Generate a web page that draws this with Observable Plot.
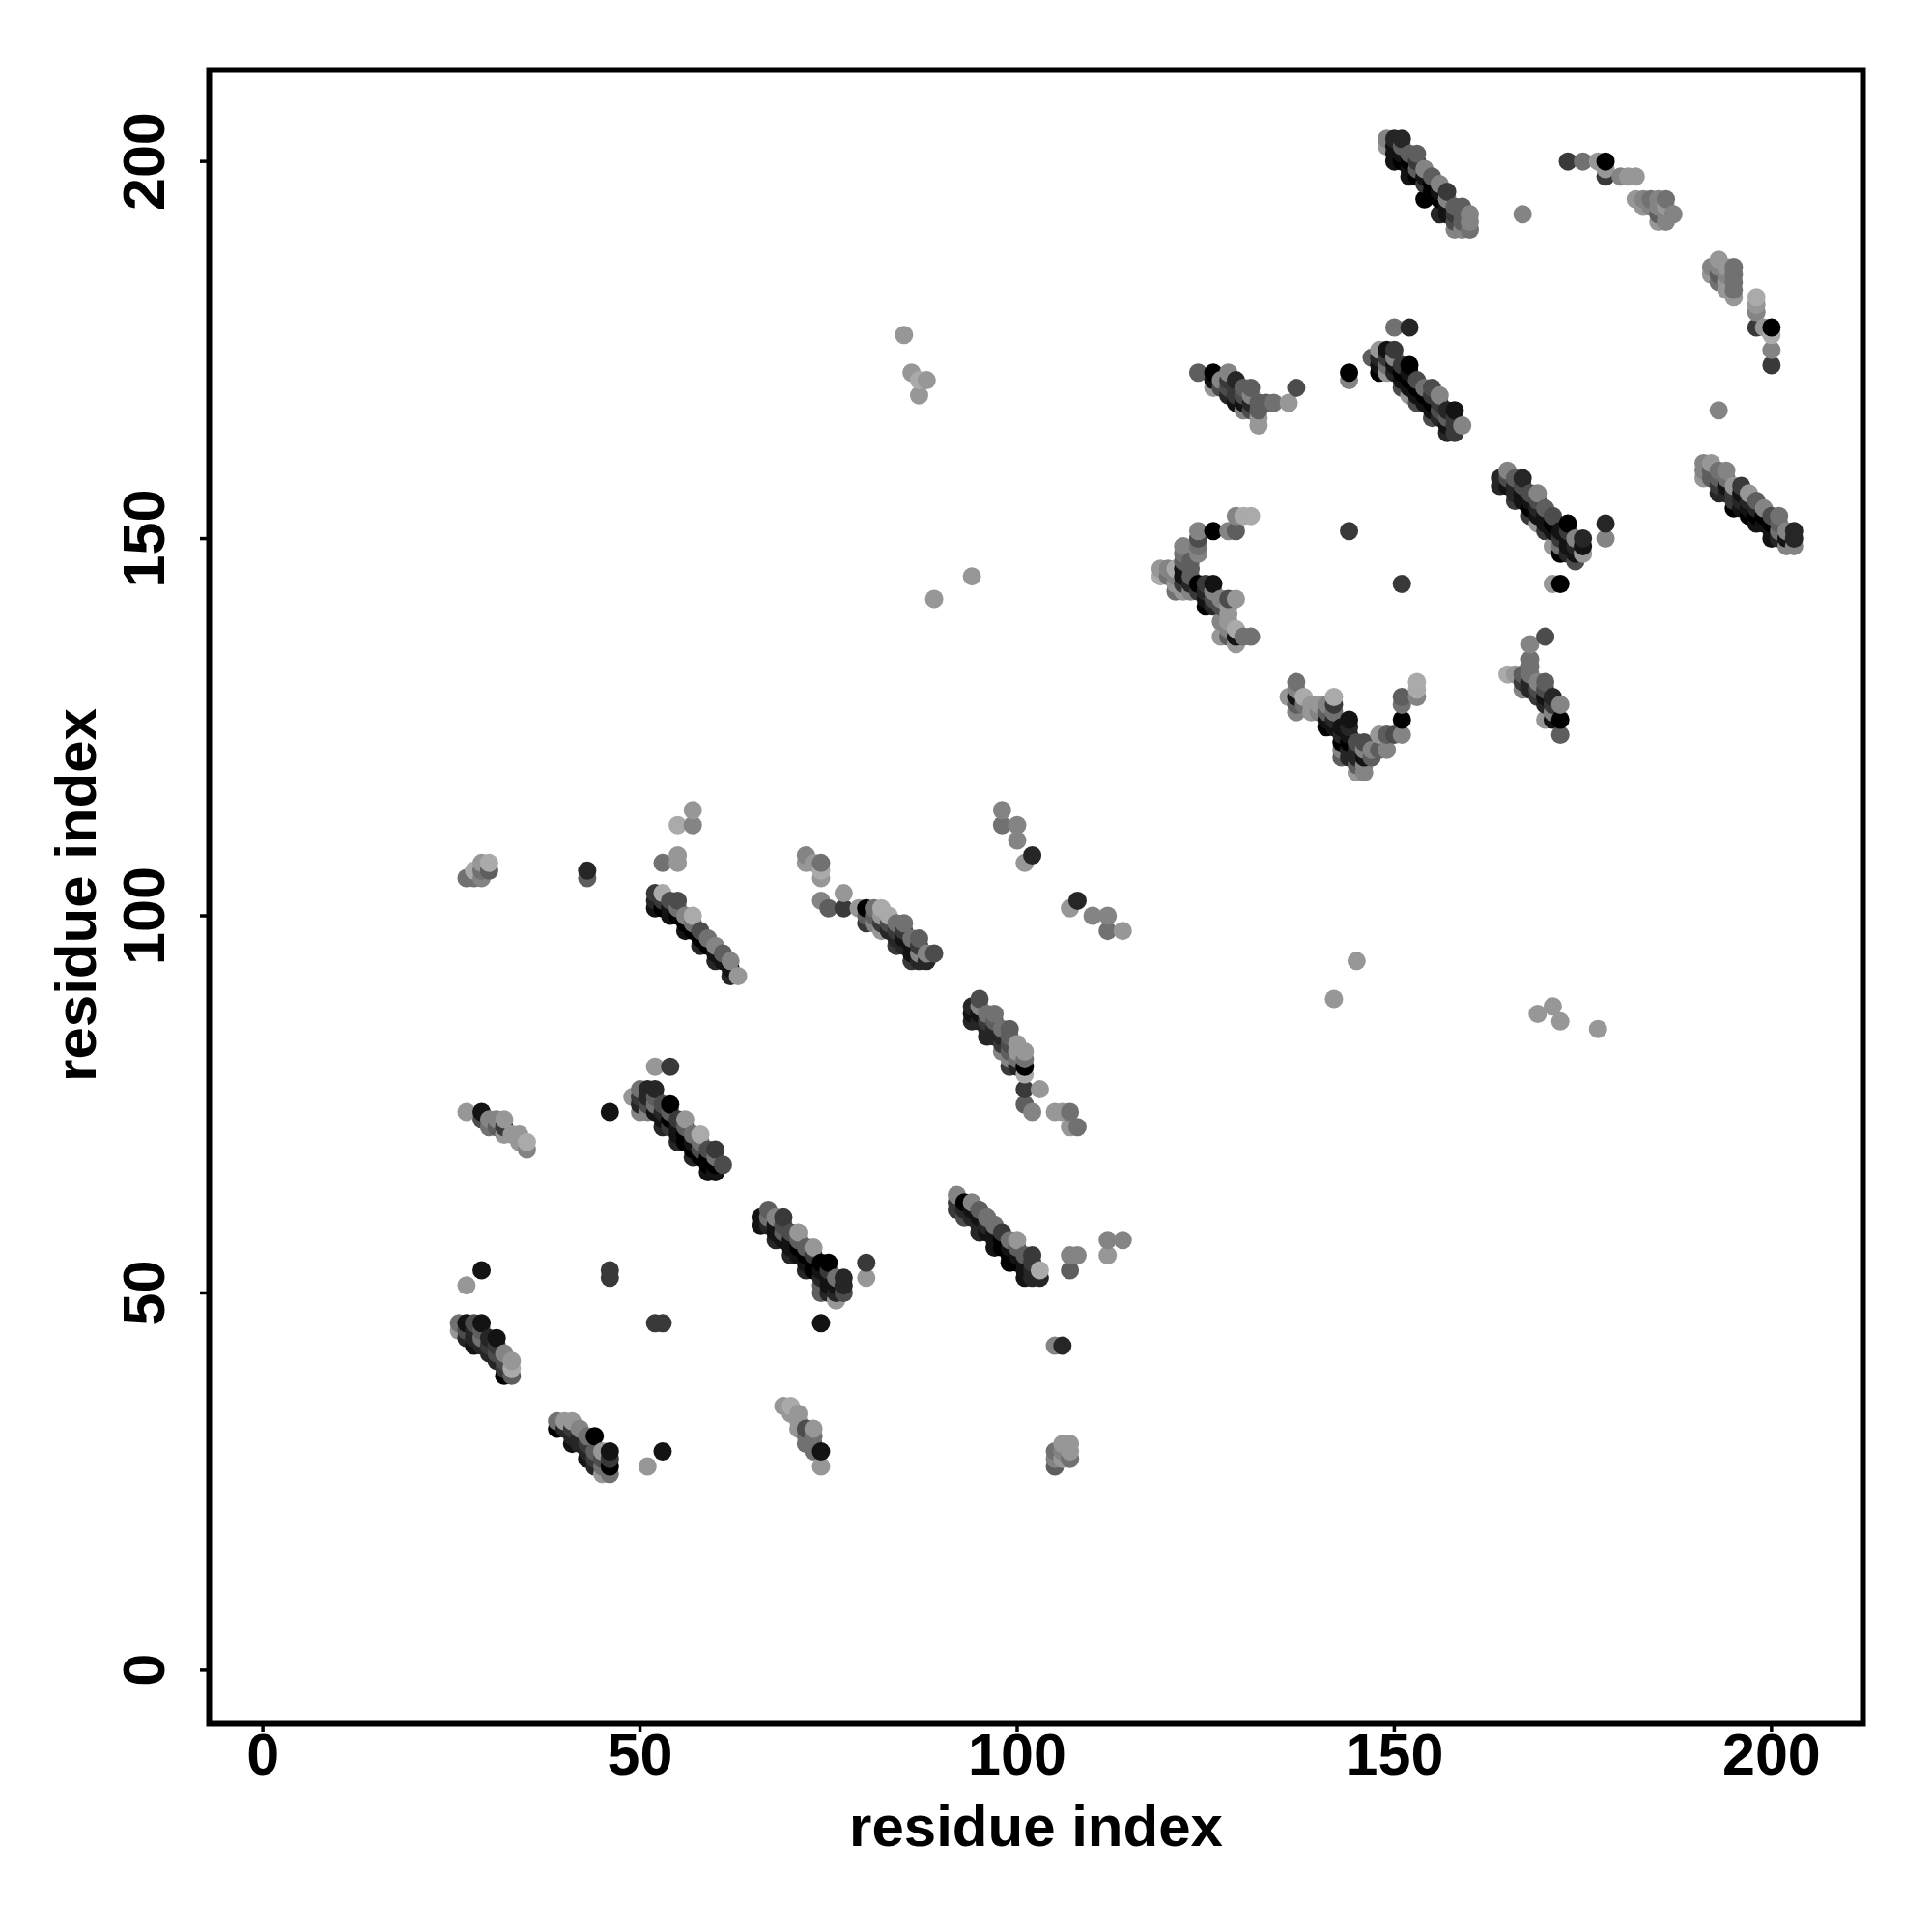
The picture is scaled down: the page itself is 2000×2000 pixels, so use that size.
<!DOCTYPE html>
<html>
<head>
<meta charset="utf-8">
<script src="https://cdn.jsdelivr.net/npm/d3@7"></script>
<script src="https://cdn.jsdelivr.net/npm/@observablehq/plot@0.6"></script>
<style>
html,body{margin:0;padding:0;background:#fff}
svg{display:block}
</style>
</head>
<body>
<div id="chart"></div>
<script>
// each contact: [residue i, residue j, level] (level 0 = strongest/darkest, 9 = weakest/lightest)
const ticks = [0, 50, 100, 150, 200];
const axisTitle = "residue index";

const groupA = [[27,105,6],[28,105,6],[29,105,7],[28,106,9],[30,106,5],[29,107,8],[30,107,9],[29,106,6],[43,106,2],[43,105,5],[53,107,6],[55,107,8],[55,108,8],[55,112,9],[57,112,7],[57,114,8]];
const strip1 = [[52,103,3],[53,103,9],[52,102,2],[52,101,1],[53,102,3],[53,101,0],[54,102,4],[55,102,4],[54,101,1],[54,100,1],[55,101,6],[55,100,0],[56,100,7],[56,99,0],[56,98,1],[57,100,9],[57,99,6],[57,98,0],[58,98,4],[58,97,0],[58,96,2],[59,97,6],[59,96,0],[60,96,7],[60,95,1],[60,94,2],[61,95,5],[61,94,1],[62,94,7],[62,93,1],[62,92,2],[63,92,8]];
const groupB = [[27,74,8],[29,74,1],[29,73,4],[30,73,7],[30,72,6],[31,73,7],[32,73,8],[31,72,5],[32,72,3],[32,71,8],[33,71,8],[34,71,8],[34,70,8],[35,70,9],[35,69,7],[46,74,1]];
const strip2 = [[49,76,8],[50,77,6],[50,76,3],[50,75,2],[50,74,7],[51,77,2],[51,75,4],[51,76,2],[51,74,7],[52,77,2],[52,76,5],[52,75,6],[52,74,1],[53,75,4],[53,74,2],[53,73,1],[53,72,2],[54,75,0],[54,74,5],[54,73,0],[54,72,3],[55,73,3],[55,72,1],[55,71,1],[55,70,2],[56,73,8],[56,72,5],[56,71,0],[56,70,0],[57,71,6],[57,70,1],[57,69,0],[57,68,2],[58,71,9],[58,70,6],[58,69,4],[58,68,0],[59,69,4],[59,68,0],[59,67,0],[59,66,1],[60,69,3],[60,68,6],[60,67,0],[60,66,1],[61,67,4],[52,80,8],[54,80,3]];
const strip3 = [[66,60,1],[66,59,1],[67,61,5],[67,60,6],[67,59,2],[68,60,7],[68,59,1],[68,58,1],[68,57,2],[69,60,3],[69,59,4],[69,58,5],[69,57,1],[70,58,4],[70,57,1],[70,56,1],[70,55,2],[71,58,8],[71,57,5],[71,56,0],[71,55,1],[72,56,5],[72,55,0],[72,54,1],[72,53,2],[73,56,8],[73,55,3],[73,54,0],[73,53,0],[74,54,0],[74,53,1],[74,52,2],[74,51,5],[74,50,5],[75,54,0],[75,53,3],[75,52,1],[75,51,1],[75,50,2],[76,52,6],[76,51,1],[76,50,2],[76,49,8],[77,52,2],[77,51,2],[77,50,4],[80,54,3],[80,52,8]];
const scatterLow = [[29,53,1],[27,51,8],[46,53,3],[46,52,3],[52,46,3],[53,46,3],[74,46,1],[53,29,1],[51,27,8],[105,43,7],[106,43,2]];
const groupE = [[26,46,6],[26,45,8],[27,46,1],[27,45,4],[27,44,2],[28,46,4],[28,45,2],[28,44,2],[28,43,1],[29,46,1],[29,45,5],[29,44,6],[29,43,2],[30,44,2],[30,43,3],[30,42,2],[31,44,1],[31,43,3],[31,42,4],[31,41,2],[32,42,7],[32,41,4],[32,40,3],[32,39,0],[33,41,8],[33,40,9],[33,39,5]];
const groupF = [[39,33,6],[39,32,0],[40,33,8],[40,32,2],[41,33,8],[41,32,3],[41,31,2],[41,30,1],[42,32,7],[42,31,2],[42,30,2],[43,31,6],[43,30,3],[43,29,2],[43,28,1],[44,31,0],[44,29,5],[44,28,3],[44,27,2],[45,29,8],[45,28,4],[45,27,6],[45,26,8],[46,29,1],[46,28,3],[46,27,0],[46,26,6]];
const groupG = [[69,35,8],[70,35,9],[70,34,8],[71,34,8],[71,33,8],[71,32,8],[72,32,4],[72,31,6],[72,30,6],[73,32,8],[73,31,6],[73,30,6],[73,29,6],[74,29,1],[74,27,8]];
const groupG2 = [[105,27,5],[105,28,7],[105,29,6],[106,28,8],[106,29,7],[106,30,8],[107,28,6],[107,29,8],[107,30,8]];
const strip4 = [[94,88,2],[94,87,1],[94,86,2],[95,89,4],[95,88,7],[95,87,1],[95,86,2],[96,87,6],[96,86,3],[96,85,2],[96,84,2],[97,87,6],[97,86,5],[97,85,2],[97,84,2],[98,85,6],[98,84,2],[98,83,3],[98,82,7],[99,85,5],[99,84,5],[99,83,4],[99,82,5],[99,81,7],[99,80,3],[100,83,8],[100,82,8],[100,81,6],[100,80,2],[101,82,8],[101,81,6],[101,80,0],[101,79,9],[101,77,3],[103,77,8],[101,75,5],[102,74,7],[105,74,8],[106,74,8],[107,74,6],[107,72,8],[108,72,6]];
const strip5 = [[92,63,7],[92,62,3],[92,61,3],[93,62,0],[93,61,2],[93,60,4],[94,62,7],[94,61,1],[94,60,2],[95,61,5],[95,60,1],[95,59,2],[95,58,2],[96,60,6],[96,59,2],[96,58,1],[97,59,6],[97,58,1],[97,57,1],[97,56,1],[98,58,3],[98,57,0],[98,56,0],[99,57,6],[99,56,1],[99,55,0],[99,54,0],[100,57,8],[100,56,5],[100,55,1],[100,54,0],[101,55,5],[101,54,1],[101,53,1],[101,52,1],[102,55,3],[102,54,3],[102,53,2],[102,52,2],[103,53,9],[103,52,2],[107,55,7],[108,55,7],[107,53,5],[112,57,7],[114,57,7],[112,55,8]];
const strip6 = [[72,108,7],[72,107,8],[73,107,8],[74,107,6],[74,106,9],[74,105,8],[74,102,7],[75,101,5],[77,103,8],[77,101,3],[79,101,8],[80,101,0],[80,100,5],[80,99,3],[81,101,6],[81,100,5],[81,99,7],[82,101,9],[82,100,8],[82,99,3],[82,98,8],[83,100,9],[83,99,4],[83,98,2],[84,99,6],[84,98,3],[84,97,2],[84,96,3],[85,99,6],[85,98,3],[85,97,1],[85,96,2],[86,97,6],[86,96,1],[86,95,1],[86,94,3],[87,97,5],[87,96,3],[87,95,7],[87,94,2],[88,95,7],[88,94,2],[89,95,4]];
const scatterMid = [[98,114,7],[98,112,6],[100,112,7],[100,110,7],[102,108,2],[101,107,8],[108,102,2],[107,101,8],[110,100,7],[112,100,7],[112,98,6],[114,98,8],[85,177,8],[86,172,8],[87,171,9],[88,171,8],[87,169,8],[89,142,8],[94,145,8],[142,89,8],[145,94,8],[169,87,8],[171,88,8],[172,86,8],[177,85,8]];
const strip7 = [[149,203,7],[149,202,8],[150,203,2],[150,202,1],[150,201,1],[150,200,1],[151,203,2],[151,202,5],[151,201,1],[151,200,0],[152,201,5],[152,200,0],[152,199,1],[152,198,1],[153,201,5],[153,200,3],[153,199,5],[153,198,0],[154,199,7],[154,198,1],[154,197,3],[154,195,0],[155,198,5],[155,197,0],[155,196,0],[156,197,7],[156,196,1],[156,195,0],[156,193,2],[157,196,3],[157,195,7],[157,194,1],[157,193,1],[158,194,5],[158,193,3],[158,192,4],[158,191,7],[159,194,5],[159,193,5],[159,192,5],[159,191,7],[160,193,7],[160,192,7],[160,191,6],[167,193,7]];
const arcTop = [[173,200,3],[175,200,6],[177,200,8],[178,200,0],[178,199,8],[178,198,3],[180,198,7],[181,198,8],[182,198,8],[182,195,8],[183,195,7],[183,194,8],[184,195,6],[184,194,7],[185,195,7],[185,194,7],[185,193,5],[185,192,8],[186,195,6],[186,194,8],[186,193,7],[186,192,7],[187,193,7]];
const arcRight = [[192,186,7],[192,185,8],[193,187,8],[193,186,7],[193,185,5],[193,184,6],[194,186,8],[194,185,7],[194,184,8],[194,183,8],[195,186,6],[195,185,6],[195,184,6],[195,183,6],[195,182,8],[198,182,9],[198,181,8],[198,180,7],[198,178,3],[199,178,8],[200,178,0],[200,177,9],[200,175,7],[200,173,3],[193,167,7]];
const groupH = [[124,172,5],[126,172,0],[126,171,1],[126,170,8],[127,171,7],[127,170,4],[128,172,7],[128,171,3],[128,170,4],[128,169,2],[129,171,2],[129,170,3],[129,169,3],[129,168,1],[130,170,5],[130,169,4],[130,168,1],[130,167,7],[131,170,5],[131,169,7],[131,168,2],[131,167,4],[132,168,5],[132,167,5],[132,166,8],[132,165,8],[133,168,5],[134,168,6],[136,168,8],[137,170,4]];
const strip8 = [[150,178,6],[152,178,2],[144,172,0],[144,171,7],[147,174,5],[148,175,8],[148,174,2],[148,173,1],[148,172,0],[149,175,1],[149,174,3],[149,173,6],[149,172,8],[150,175,3],[150,174,7],[150,173,1],[150,172,2],[151,173,3],[151,172,0],[151,171,1],[151,170,4],[152,173,0],[152,172,1],[152,171,0],[152,170,1],[152,169,8],[153,171,4],[153,170,0],[153,169,1],[153,168,4],[154,170,6],[154,169,0],[154,168,1],[155,170,4],[155,169,3],[155,168,0],[155,167,1],[155,166,4],[156,169,7],[156,168,3],[156,167,4],[156,166,2],[157,167,2],[157,166,5],[157,165,1],[157,164,2],[158,167,1],[158,166,3],[158,165,3],[158,164,3],[159,165,7]];
const groupI = [[129,153,7],[130,153,9],[131,153,9],[124,151,7],[126,151,0],[128,151,7],[129,151,5],[124,150,4],[124,149,6],[122,149,7],[124,148,7],[122,148,6],[122,147,5],[119,146,8],[120,146,7],[119,145,9],[120,145,6],[121,146,9],[123,147,5],[123,146,5],[121,145,7],[122,146,1],[122,145,1],[123,145,5],[121,144,8],[122,144,3],[121,143,6],[122,143,8],[123,143,7],[123,144,2],[124,144,0],[125,144,3],[126,144,1],[124,143,3],[125,143,2],[126,143,7],[125,141,0],[126,141,2],[125,142,1],[126,142,4],[127,142,7],[128,142,4],[129,142,8],[127,141,4],[128,141,8],[128,140,8],[127,139,7],[128,139,8],[127,137,8],[128,137,5],[128,138,7],[129,138,9],[129,137,1],[129,136,8],[130,137,6],[131,137,6],[144,151,3],[151,144,3]];
const groupJ = [[137,131,6],[137,130,7],[136,129,8],[137,129,1],[138,129,9],[137,128,5],[137,127,7],[138,128,6],[139,128,8],[139,127,8],[140,128,8],[140,127,7],[141,128,7],[141,127,5],[141,126,1],[141,125,0],[142,129,9],[142,128,3],[142,127,6],[142,126,2],[142,125,1],[143,125,1],[143,124,2],[143,123,0],[143,122,7],[143,121,5],[144,126,1],[144,125,2],[144,124,1],[144,123,0],[144,122,2],[144,121,2],[145,123,4],[145,122,2],[145,121,2],[145,120,5],[145,119,8],[146,123,4],[146,122,7],[146,121,1],[146,120,7],[146,119,7],[147,122,7],[147,121,5],[148,124,8],[148,122,5],[149,124,5],[149,122,7],[150,124,4],[151,124,7],[151,126,0],[151,128,6],[151,129,5],[153,129,7],[153,130,9],[153,131,9]];
const strip9 = [[165,159,7],[164,158,2],[164,157,2],[165,158,4],[165,157,1],[166,158,5],[166,157,2],[166,156,2],[166,155,3],[167,158,2],[167,157,4],[167,156,1],[167,155,1],[168,156,4],[168,155,1],[168,154,0],[168,153,3],[169,156,7],[169,155,4],[169,154,2],[169,153,1],[169,152,8],[170,154,5],[170,153,1],[170,152,1],[170,151,3],[171,153,4],[171,152,0],[171,151,1],[171,149,8],[171,144,8],[172,151,1],[172,150,3],[172,149,6],[172,148,0],[172,144,0],[173,152,0],[173,151,3],[173,150,1],[173,149,1],[173,148,2],[174,150,7],[174,149,2],[174,148,1],[174,147,4],[175,150,2],[175,149,1],[175,148,8],[178,152,2],[178,150,7]];
const strip10 = [[191,160,7],[192,160,8],[191,159,7],[191,158,8],[192,159,5],[192,158,5],[193,159,6],[193,158,5],[193,157,3],[193,156,2],[194,159,7],[194,158,6],[194,157,1],[194,156,2],[195,157,8],[195,156,3],[195,155,3],[195,154,0],[196,157,3],[196,156,1],[196,155,2],[196,154,1],[197,156,8],[197,155,2],[197,154,1],[197,153,0],[198,155,5],[198,154,2],[198,153,0],[198,152,1],[199,154,7],[199,153,0],[199,152,1],[200,153,4],[200,152,0],[200,151,1],[200,150,1],[201,153,6],[201,152,5],[201,151,6],[201,150,2],[202,151,7],[202,150,1],[202,149,7],[203,151,2],[203,150,2],[203,149,7]];
const groupK = [[170,137,4],[168,136,7],[168,134,6],[168,133,6],[165,132,9],[166,132,8],[167,132,5],[167,131,3],[167,130,7],[168,132,6],[168,131,2],[169,131,7],[170,131,5],[168,130,2],[169,130,4],[169,129,3],[170,130,4],[170,129,1],[171,129,2],[172,128,7],[171,128,3],[170,128,2],[170,126,8],[171,126,1],[172,126,0],[172,124,5],[171,127,7]];

const contacts = d3.sort(
  [strip1, strip2, strip3, strip4, strip5, strip6, strip7, strip8, strip9, strip10,
   groupA, groupB, scatterLow, groupE, groupF, groupG, groupG2, scatterMid,
   arcTop, arcRight, groupH, groupI, groupJ, groupK].flat(),
  d => d[0], d => d[1]
).map(([i, j, level]) => ({i, j, level}));

const plot = Plot.plot({
  width: 2000,
  height: 2000,
  marginLeft: 216,
  marginRight: 72,
  marginTop: 72,
  marginBottom: 216,
  style: {fontFamily: "'Liberation Sans', Arial, sans-serif", fontWeight: "bold", fontSize: "60px", color: "#000", background: "#fff"},
  x: {domain: [-7.12, 212.12]},
  y: {domain: [-7.12, 212.12]},
  color: {type: "linear", domain: [0, 9], range: ["#000000", "#aaaaaa"]},
  marks: [
    Plot.dot(contacts, {x: "i", y: "j", r: 9.5, fill: "level", stroke: "none"}),
    Plot.frame({stroke: "#000", strokeWidth: 6}),
    Plot.axisX({ticks, tickSize: 9, tickPadding: 0, strokeWidth: 3.5, fontSize: 61, label: null, tickFormat: d => d}),
    Plot.axisY({ticks, tickSize: 9, tickPadding: 38, strokeWidth: 3.5, fontSize: 61, tickRotate: -90, label: null, tickFormat: d => d}),
    Plot.text([axisTitle], {frameAnchor: "bottom", dy: 107, lineAnchor: "middle", textAnchor: "middle", fontSize: 60, fontWeight: "bold", fill: "#000"}),
    Plot.text([axisTitle], {frameAnchor: "left", dx: -137, dy: -2, rotate: -90, lineAnchor: "middle", textAnchor: "middle", fontSize: 60, fontWeight: "bold", fill: "#000"})
  ]
});
document.getElementById("chart").appendChild(plot);
</script>
</body>
</html>
